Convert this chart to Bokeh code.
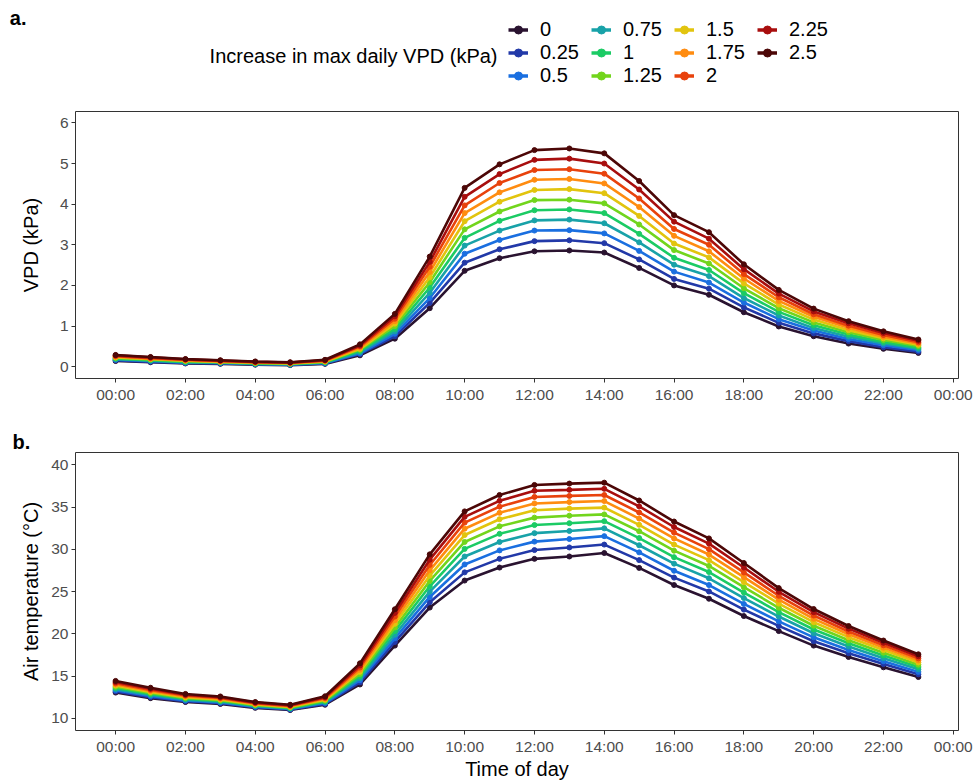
from bokeh.plotting import figure
from bokeh.models import (Legend, LegendItem, Label, FixedTicker, Range1d, LinearAxis)
from bokeh.layouts import column
from bokeh.embed import file_html
from bokeh.resources import INLINE

FONT = "Liberation Sans"

hours = list(range(24))
x_ticks = list(range(0, 25, 2))
x_tick_labels = ["%02d:00" % (h % 24) for h in x_ticks]
vpd_ticks = [0, 1, 2, 3, 4, 5, 6]
temp_ticks = [10, 15, 20, 25, 30, 35, 40]

increase_labels = ["0", "0.25", "0.5", "0.75", "1", "1.25", "1.5", "1.75", "2", "2.25", "2.5"]
colors = ["#2A1330", "#2239A8", "#1A6FE0", "#18A2A8", "#1BCB64", "#72D51C",
          "#E2C40E", "#FF8C10", "#E8420C", "#A80E0E", "#4C0707"]

# VPD (kPa) per increase level, hours 0..23
vpd_0    = [0.14,0.11,0.08,0.07,0.05,0.04,0.07,0.28,0.69,1.44,2.36,2.67,2.84,2.86,2.81,2.43,2.00,1.77,1.34,0.99,0.75,0.57,0.44,0.34]
vpd_025  = [0.16,0.12,0.09,0.08,0.06,0.05,0.08,0.31,0.75,1.57,2.56,2.89,3.09,3.11,3.04,2.64,2.16,1.92,1.46,1.08,0.82,0.63,0.48,0.37]
vpd_05   = [0.17,0.14,0.10,0.09,0.07,0.05,0.09,0.33,0.81,1.69,2.78,3.12,3.35,3.36,3.28,2.85,2.34,2.07,1.58,1.17,0.89,0.68,0.53,0.41]
vpd_075  = [0.19,0.15,0.11,0.10,0.07,0.06,0.10,0.36,0.87,1.82,2.98,3.35,3.60,3.62,3.53,3.06,2.51,2.23,1.69,1.26,0.95,0.74,0.57,0.44]
vpd_1    = [0.20,0.16,0.12,0.11,0.08,0.07,0.11,0.39,0.93,1.95,3.17,3.59,3.85,3.87,3.78,3.27,2.68,2.38,1.81,1.35,1.02,0.79,0.61,0.47]
vpd_125  = [0.22,0.18,0.14,0.12,0.09,0.08,0.12,0.42,1.00,2.08,3.38,3.82,4.10,4.11,4.02,3.50,2.87,2.54,1.93,1.44,1.09,0.85,0.66,0.51]
vpd_15   = [0.23,0.19,0.15,0.12,0.10,0.08,0.13,0.44,1.06,2.20,3.58,4.06,4.35,4.37,4.27,3.71,3.03,2.69,2.05,1.53,1.16,0.90,0.70,0.54]
vpd_175  = [0.25,0.20,0.16,0.13,0.11,0.09,0.14,0.47,1.12,2.33,3.78,4.29,4.60,4.62,4.51,3.93,3.22,2.84,2.17,1.62,1.23,0.96,0.74,0.57]
vpd_2    = [0.26,0.21,0.17,0.14,0.11,0.10,0.15,0.50,1.18,2.46,3.97,4.52,4.84,4.86,4.75,4.14,3.39,3.00,2.28,1.71,1.29,1.01,0.78,0.60]
vpd_225  = [0.28,0.23,0.18,0.15,0.12,0.10,0.16,0.52,1.24,2.58,4.18,4.74,5.09,5.12,5.00,4.36,3.57,3.15,2.40,1.80,1.36,1.07,0.83,0.64]
vpd_25   = [0.29,0.24,0.19,0.16,0.13,0.11,0.17,0.55,1.30,2.71,4.40,4.98,5.33,5.37,5.25,4.57,3.73,3.31,2.52,1.89,1.43,1.12,0.87,0.67]

# Air temperature (degC) per increase level, hours 0..23
temp_0   = [13.04,12.38,11.92,11.69,11.23,10.97,11.60,14.00,18.60,23.10,26.30,27.84,28.87,29.15,29.56,27.80,25.77,24.15,22.10,20.32,18.60,17.25,16.03,14.88]
temp_025 = [13.18,12.50,12.02,11.78,11.30,11.03,11.70,14.25,19.03,23.73,27.27,28.87,29.91,30.22,30.56,28.72,26.65,25.01,22.86,20.93,19.12,17.69,16.41,15.20]
temp_05  = [13.32,12.63,12.11,11.87,11.37,11.10,11.80,14.50,19.46,24.36,28.21,29.87,30.91,31.22,31.56,29.64,27.46,25.77,23.53,21.47,19.58,18.08,16.75,15.49]
temp_075 = [13.45,12.75,12.21,11.96,11.44,11.16,11.90,14.75,19.89,24.99,29.15,30.87,31.91,32.17,32.48,30.48,28.30,26.57,24.23,22.04,20.06,18.49,17.11,15.79]
temp_1   = [13.59,12.87,12.30,12.05,11.51,11.22,12.00,15.00,20.32,25.62,30.05,31.83,32.87,33.09,33.33,31.33,29.07,27.31,24.88,22.57,20.51,18.87,17.44,16.07]
temp_125 = [13.73,13.00,12.40,12.14,11.58,11.29,12.10,15.25,20.75,26.25,30.87,32.72,33.75,33.98,34.13,32.14,29.84,28.03,25.51,23.08,20.95,19.24,17.76,16.34]
temp_15  = [13.87,13.12,12.50,12.22,11.64,11.35,12.20,15.50,21.18,26.88,31.69,33.56,34.63,34.82,34.94,32.90,30.56,28.72,26.12,23.57,21.37,19.60,18.07,16.60]
temp_175 = [14.01,13.24,12.59,12.31,11.71,11.41,12.30,15.75,21.61,27.51,32.44,34.32,35.43,35.59,35.71,33.64,31.29,29.38,26.70,24.04,21.77,19.94,18.36,16.85]
temp_2   = [14.14,13.36,12.69,12.40,11.78,11.47,12.40,16.00,22.04,28.14,33.16,35.05,36.20,36.32,36.43,34.36,31.98,30.02,27.26,24.50,22.16,20.27,18.64,17.09]
temp_225 = [14.28,13.49,12.78,12.49,11.85,11.54,12.50,16.25,22.47,28.77,33.84,35.74,36.93,37.04,37.16,35.09,32.64,30.68,27.84,24.97,22.56,20.61,18.93,17.34]
temp_25  = [14.42,13.61,12.88,12.58,11.92,11.60,12.60,16.50,22.90,29.40,34.49,36.43,37.62,37.78,37.89,35.78,33.29,31.29,28.38,25.41,22.93,20.92,19.20,17.57]

vpd_series = [vpd_0, vpd_025, vpd_05, vpd_075, vpd_1, vpd_125, vpd_15, vpd_175, vpd_2, vpd_225, vpd_25]
temp_series = [temp_0, temp_025, temp_05, temp_075, temp_1, temp_125, temp_15, temp_175, temp_2, temp_225, temp_25]


def style(p, ylab, yticks, ylab_standoff):
    p.xgrid.visible = False
    p.ygrid.visible = False
    p.outline_line_color = "#333333"
    p.outline_line_width = 1
    p.background_fill_color = "white"
    p.border_fill_color = "white"
    for ax in (p.xaxis[0], p.yaxis[0]):
        ax.axis_line_color = None
        ax.major_tick_line_color = "#333333"
        ax.major_tick_line_width = 1
        ax.major_tick_in = 0
        ax.major_tick_out = 4
        ax.minor_tick_line_color = None
        ax.major_label_text_font = FONT
        ax.major_label_text_font_size = "15.5px"
        ax.major_label_text_color = "#4D4D4D"
        ax.major_label_standoff = 3
        ax.axis_label_text_font = FONT
        ax.axis_label_text_font_size = "20px"
        ax.axis_label_text_font_style = "normal"
        ax.axis_label_text_color = "black"
    p.xaxis[0].ticker = FixedTicker(ticks=x_ticks)
    p.xaxis[0].major_label_overrides = {t: l for t, l in zip(x_ticks, x_tick_labels)}
    p.yaxis[0].ticker = FixedTicker(ticks=yticks)
    p.yaxis[0].axis_label = ylab
    p.yaxis[0].axis_label_standoff = ylab_standoff


# ---------- header (panel letter a. + legend) ----------
HEAD_H = 95
head = figure(width=975, height=HEAD_H, output_backend="svg", toolbar_location=None,
              x_range=Range1d(75, 958), y_range=Range1d(0, HEAD_H),
              x_axis_type=None, y_axis_type=None,
              min_border_left=75, min_border_right=17, min_border_top=0, min_border_bottom=0)
head.xgrid.visible = False
head.ygrid.visible = False
head.outline_line_color = None
head.background_fill_color = "white"
head.border_fill_color = "white"
# legend-key renderers draw on a range that keeps their lines out of the header frame
head.extra_y_ranges = {"keys": Range1d(100, 200)}

# panel letter "a." as a single left tick label of the header
letter_tick = HEAD_H - 17
letter_axis = LinearAxis(ticker=FixedTicker(ticks=[letter_tick]),
                         major_label_overrides={letter_tick: "a."},
                         axis_line_color=None, major_tick_line_color=None,
                         minor_tick_line_color=None, major_tick_in=0, major_tick_out=0,
                         major_label_standoff=49, major_label_text_font=FONT,
                         major_label_text_font_size="20px", major_label_text_font_style="bold",
                         major_label_text_color="black")
head.add_layout(letter_axis, "left")

# ---------- top panel ----------
p1 = figure(width=975, height=310, output_backend="svg", toolbar_location=None,
            x_range=Range1d(-1.15, 24.15), y_range=Range1d(-0.29, 6.28),
            min_border_left=75, min_border_right=17, min_border_top=16, min_border_bottom=26)
style(p1, "VPD (kPa)", vpd_ticks, 15)

items = []
for lbl, col, vals in zip(increase_labels, colors, vpd_series):
    p1.line(hours, vals, line_color=col, line_width=2.6)
    p1.scatter(hours, vals, color=col, size=5)
    k_line = head.line(hours, vals, line_color=col, line_width=3.5, y_range_name="keys")
    k_pt = head.scatter(hours, vals, color=col, size=7, y_range_name="keys")
    items.append(LegendItem(label=lbl, renderers=[k_line, k_pt]))

legend = Legend(items=items, location=(433, 8), orientation="vertical", nrows=3,
                padding=0, margin=0, spacing=0, glyph_width=20, glyph_height=21,
                label_height=21, label_width=51, label_standoff=12,
                label_text_font=FONT, label_text_font_size="20px", label_text_color="black",
                background_fill_alpha=0, border_line_alpha=0)
head.add_layout(legend, "center")

head.add_layout(Label(x=497, y=HEAD_H - 55, text="Increase in max daily VPD (kPa)",
                      text_align="right", text_baseline="middle", text_font=FONT,
                      text_font_size="20px", text_color="black"))

# ---------- bottom panel ----------
p2 = figure(width=975, height=377, output_backend="svg", toolbar_location=None,
            x_range=Range1d(-1.15, 24.15), y_range=Range1d(8.55, 41.46),
            min_border_left=75, min_border_right=17, min_border_top=47, min_border_bottom=44)
style(p2, "Air temperature (°C)", temp_ticks, 6)
p2.xaxis[0].axis_label = "Time of day"
p2.xaxis[0].axis_label_standoff = 0
p2.title.text = "b."
p2.title.align = "left"
p2.title.offset = -63
p2.title.standoff = 0
p2.title.text_font = FONT
p2.title.text_font_size = "20px"
p2.title.text_font_style = "bold"
p2.title.text_color = "black"

for col, vals in zip(colors, temp_series):
    p2.line(hours, vals, line_color=col, line_width=2.6)
    p2.scatter(hours, vals, color=col, size=5)

layout = column(head, p1, p2, spacing=0)
open("out.html", "w").write(file_html(layout, INLINE))
